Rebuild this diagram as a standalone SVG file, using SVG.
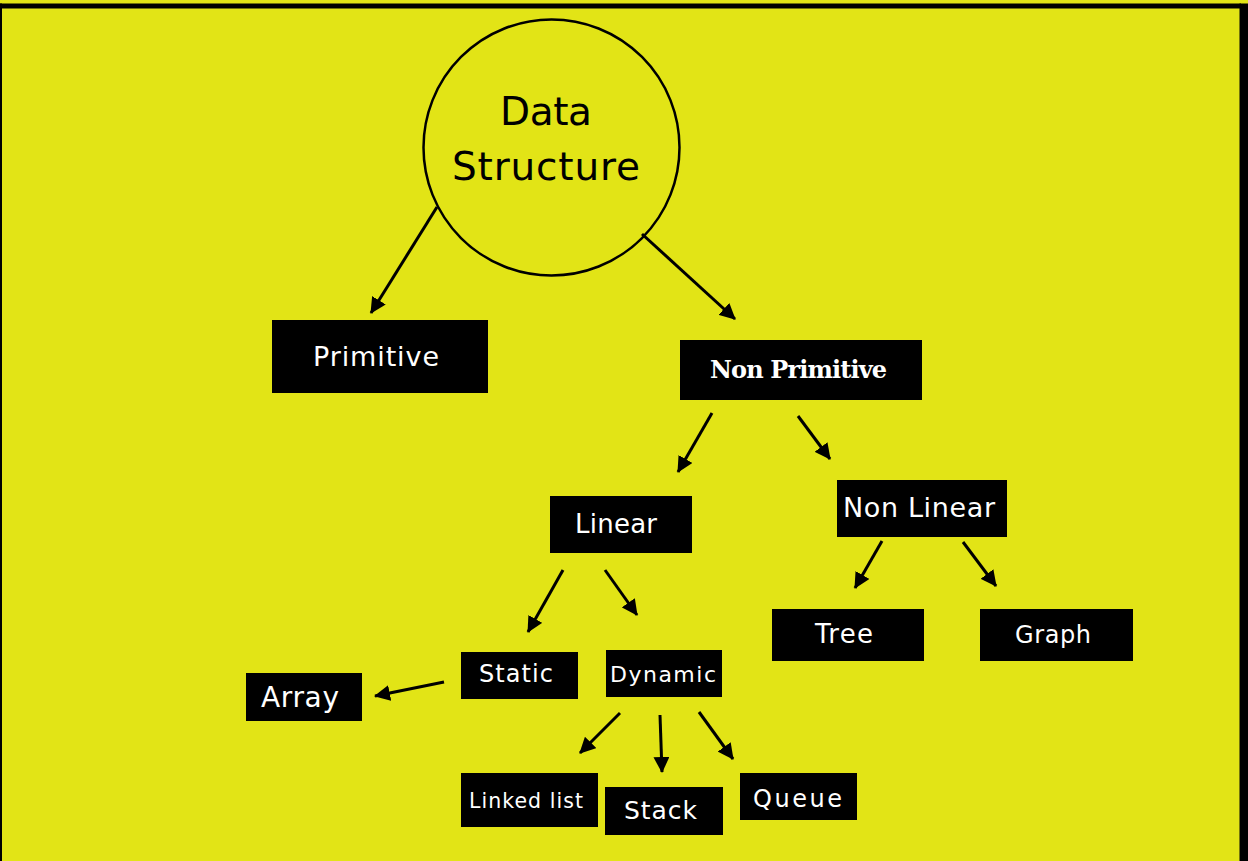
<svg xmlns="http://www.w3.org/2000/svg" width="1248" height="861" viewBox="0 0 1248 861">
<defs>
<style>
.box{fill:#000}
.t{fill:#fff;font-family:"DejaVu Sans",Inter,sans-serif;text-anchor:middle}
.ts{fill:#fff;font-family:"DejaVu Serif","Liberation Serif",serif;text-anchor:middle}
.conn line{stroke:#000;stroke-width:3;marker-end:url(#ah)}
</style>
<marker id="ah" markerUnits="userSpaceOnUse" viewBox="0 0 16 16" refX="15" refY="8" markerWidth="16" markerHeight="16" orient="auto">
<path d="M0,0 L16,8 L0,16 Z" fill="#000"/>
</marker>
</defs>
<rect x="0" y="0" width="1248" height="861" fill="#e2e416"/>
<rect x="0" y="3.5" width="1241" height="5" fill="#000"/>
<rect x="0" y="3.5" width="2" height="857.5" fill="#000"/>
<rect x="1239.5" y="3.5" width="8.5" height="857.5" fill="#000"/>
<g id="data-structure">
<circle cx="551.5" cy="147.5" r="128" fill="none" stroke="#000" stroke-width="2.5"/>
<text x="546" y="125" font-family="'DejaVu Sans',Inter,sans-serif" font-size="39" fill="#000" text-anchor="middle" textLength="92">Data</text>
<text x="546" y="180" font-family="'DejaVu Sans',Inter,sans-serif" font-size="39" fill="#000" text-anchor="middle" textLength="188">Structure</text>
</g>
<g id="primitive"><rect class="box" x="272" y="320" width="216" height="73"/><text class="t" x="376" y="366" font-size="27" textLength="126">Primitive</text></g>
<g id="non-primitive"><rect class="box" x="680" y="340" width="242" height="60"/><text class="ts" x="798.5" y="378" font-size="24" font-weight="600" textLength="177">Non Primitive</text></g>
<g id="linear"><rect class="box" x="550" y="496" width="142" height="57"/><text class="t" x="616" y="533" font-size="26" textLength="82">Linear</text></g>
<g id="non-linear"><rect class="box" x="837" y="480" width="170" height="57"/><text class="t" x="919" y="517" font-size="27" textLength="152">Non Linear</text></g>
<g id="tree"><rect class="box" x="772" y="609" width="152" height="52"/><text class="t" x="844" y="643" font-size="26" textLength="58">Tree</text></g>
<g id="graph"><rect class="box" x="980" y="609" width="153" height="52"/><text class="t" x="1053" y="643" font-size="24" textLength="76">Graph</text></g>
<g id="static"><rect class="box" x="461" y="652" width="117" height="47"/><text class="t" x="516" y="682" font-size="24" textLength="74">Static</text></g>
<g id="dynamic"><rect class="box" x="606" y="650" width="116" height="47"/><text class="t" x="663" y="682" font-size="22" textLength="106">Dynamic</text></g>
<g id="array"><rect class="box" x="246" y="673" width="116" height="48"/><text class="t" x="300" y="707" font-size="28" textLength="78">Array</text></g>
<g id="linked-list"><rect class="box" x="461" y="773" width="137" height="54"/><text class="t" x="526" y="808" font-size="20.5" textLength="114">Linked list</text></g>
<g id="stack"><rect class="box" x="605" y="787" width="118" height="48"/><text class="t" x="660.5" y="819" font-size="25" textLength="73">Stack</text></g>
<g id="queue"><rect class="box" x="740" y="773" width="117" height="47"/><text class="t" x="797.5" y="807" font-size="24" textLength="89">Queue</text></g>
<g id="connectors" class="conn">
<line x1="437" y1="207" x2="371" y2="313"/>
<line x1="642" y1="234" x2="735" y2="319"/>
<line x1="712" y1="413" x2="678" y2="472"/>
<line x1="798" y1="416" x2="830" y2="459"/>
<line x1="563" y1="570" x2="528" y2="632"/>
<line x1="605" y1="570" x2="637" y2="615"/>
<line x1="882" y1="541" x2="855" y2="588"/>
<line x1="963" y1="542" x2="996" y2="586"/>
<line x1="444" y1="682" x2="375" y2="696"/>
<line x1="620" y1="713" x2="580" y2="753"/>
<line x1="660" y1="715" x2="662" y2="772"/>
<line x1="699" y1="712" x2="733" y2="759"/>
</g>
</svg>
